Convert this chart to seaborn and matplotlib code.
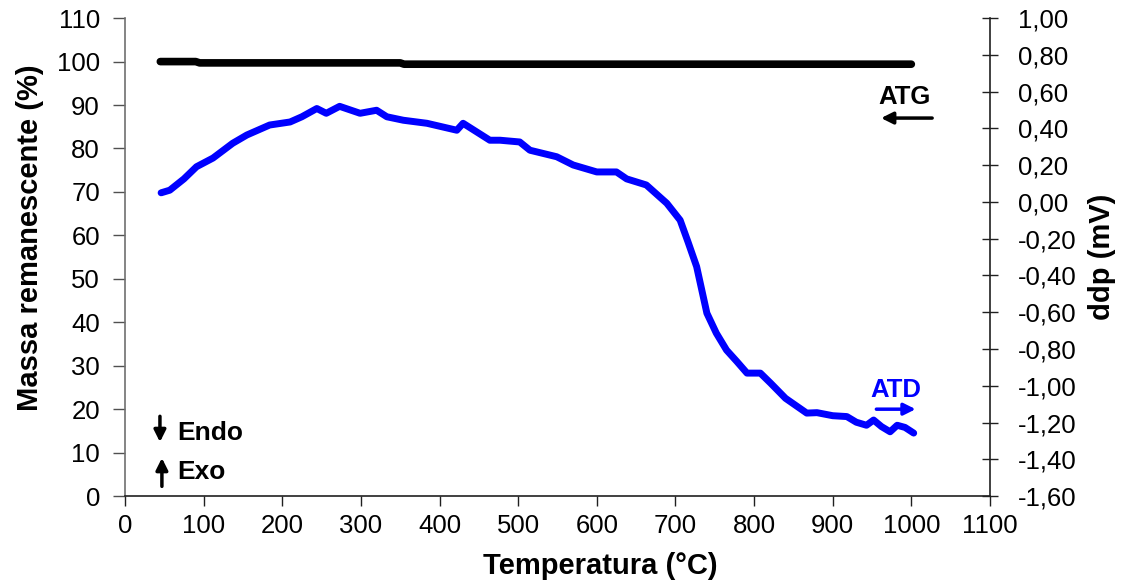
import numpy as np
import pandas as pd
import matplotlib
matplotlib.use("Agg")
import matplotlib.pyplot as plt
from matplotlib.ticker import FuncFormatter, MultipleLocator
import seaborn as sns

# ATG : masse remanescente (%) vs temperatura
temp_atg = [45, 60, 90, 95, 200, 350, 355, 500, 700, 900, 1000]
massa_atg = [100.0, 100.0, 100.0, 99.7, 99.7, 99.7, 99.4, 99.4, 99.4, 99.4, 99.4]

# ATD : courbe lue en % sur l'axe gauche puis convertie en mV
temp_atd = [46, 57, 75, 91, 112, 137, 155, 184, 210, 225, 244, 256, 273, 299,
            320, 333, 354, 384, 422, 430, 464, 477, 502, 515, 549, 570, 600,
            625, 638, 663, 689, 706, 716, 727, 740, 752, 765, 778, 791, 808,
            821, 840, 867, 880, 900, 918, 930, 943, 952, 962, 973, 982, 992, 1003]
massa_atd = [69.8, 70.4, 73.0, 75.8, 77.8, 81.2, 83.1, 85.4, 86.1, 87.3, 89.2,
             88.1, 89.7, 88.1, 88.8, 87.3, 86.5, 85.8, 84.2, 85.8, 81.9, 81.9,
             81.5, 79.6, 78.1, 76.2, 74.6, 74.6, 73.0, 71.6, 67.4, 63.5, 58.5,
             52.8, 42.1, 37.5, 33.6, 31.0, 28.3, 28.3, 26.0, 22.5, 19.1, 19.2,
             18.5, 18.3, 17.0, 16.3, 17.5, 16.0, 14.8, 16.3, 15.8, 14.5]
ddp_atd = [-1.6 + m * 2.6 / 110 for m in massa_atd]

df_atg = pd.DataFrame({"Temperatura": temp_atg, "Massa": massa_atg})
df_atd = pd.DataFrame({"Temperatura": temp_atd, "ddp": ddp_atd})

sns.set_style("white")
plt.rcParams["font.family"] = ["Liberation Sans", "DejaVu Sans"]
plt.rcParams.update({"text.color": "black", "axes.labelcolor": "black",
                     "xtick.color": "black", "ytick.color": "black"})

fig = plt.figure(figsize=(11.4, 5.85), dpi=100)
ax = fig.add_axes([0.1096, 0.152, 0.7588, 0.817])
ax2 = ax.twinx()

sns.lineplot(data=df_atg, x="Temperatura", y="Massa", ax=ax, color="black",
             linewidth=5.5, solid_capstyle="round", estimator=None, sort=False)
sns.lineplot(data=df_atd, x="Temperatura", y="ddp", ax=ax2, color="#0000ff",
             linewidth=5, solid_capstyle="round", estimator=None, sort=False)

ax.set_xlim(0, 1100)
ax.set_ylim(0, 110)
ax2.set_ylim(-1.6, 1.0)
ax.xaxis.set_major_locator(MultipleLocator(100))
ax.yaxis.set_major_locator(MultipleLocator(10))
ax2.yaxis.set_major_locator(MultipleLocator(0.2))
ax2.yaxis.set_major_formatter(FuncFormatter(lambda v, p: f"{v:.2f}".replace(".", ",")))

for a in (ax, ax2):
    a.spines["top"].set_visible(False)
    for s in a.spines.values():
        s.set_linewidth(1.2)
ax.spines["right"].set_visible(False)
ax.spines["left"].set_color("#707070")
ax.spines["bottom"].set_color("#202020")
ax2.spines["right"].set_color("#202020")
ax2.spines["left"].set_visible(False)
ax2.spines["bottom"].set_visible(False)

ax.tick_params(axis="x", labelsize=18.5, length=7, width=1, direction="out",
               color="#202020", bottom=True, pad=6)
ax.tick_params(axis="y", labelsize=18.5, length=9, width=1, direction="out",
               color="#505050", left=True, pad=9)
ax2.tick_params(axis="y", labelsize=18.5, length=12, width=1, direction="inout",
                color="#202020", right=True, pad=14)

ax.set_xlabel("Temperatura (°C)", fontsize=21, fontweight="bold", labelpad=10, x=0.55)
ax.set_ylabel("Massa remanescente (%)", fontsize=21, fontweight="bold", labelpad=9, y=0.54)
ax2.set_ylabel("ddp (mV)", fontsize=21, fontweight="bold", labelpad=8)

# Annotations
arrow = "-|>,head_length=0.7,head_width=0.35"
ax.text(992, 91.8, "ATG", fontsize=18.5, fontweight="bold", ha="center", va="center")
ax.annotate("", xy=(958, 87.0), xytext=(1030, 87.0),
            arrowprops=dict(arrowstyle=arrow, color="black", lw=2.5))
ax.text(980, 24.4, "ATD", fontsize=18.5, fontweight="bold", ha="center", va="center", color="#0000ff")
ax.annotate("", xy=(1009, 20.0), xytext=(952, 20.0),
            arrowprops=dict(arrowstyle=arrow, color="#0000ff", lw=2.5))
ax.annotate("", xy=(44.5, 11.8), xytext=(44.5, 19.0),
            arrowprops=dict(arrowstyle=arrow, color="black", lw=2.5))
ax.text(66, 14.5, "Endo", fontsize=19, fontweight="bold", ha="left", va="center")
ax.annotate("", xy=(47, 9.4), xytext=(47, 1.6),
            arrowprops=dict(arrowstyle=arrow, color="black", lw=2.5))
ax.text(66, 5.5, "Exo", fontsize=19, fontweight="bold", ha="left", va="center")

fig.savefig("out.png", dpi=100)
